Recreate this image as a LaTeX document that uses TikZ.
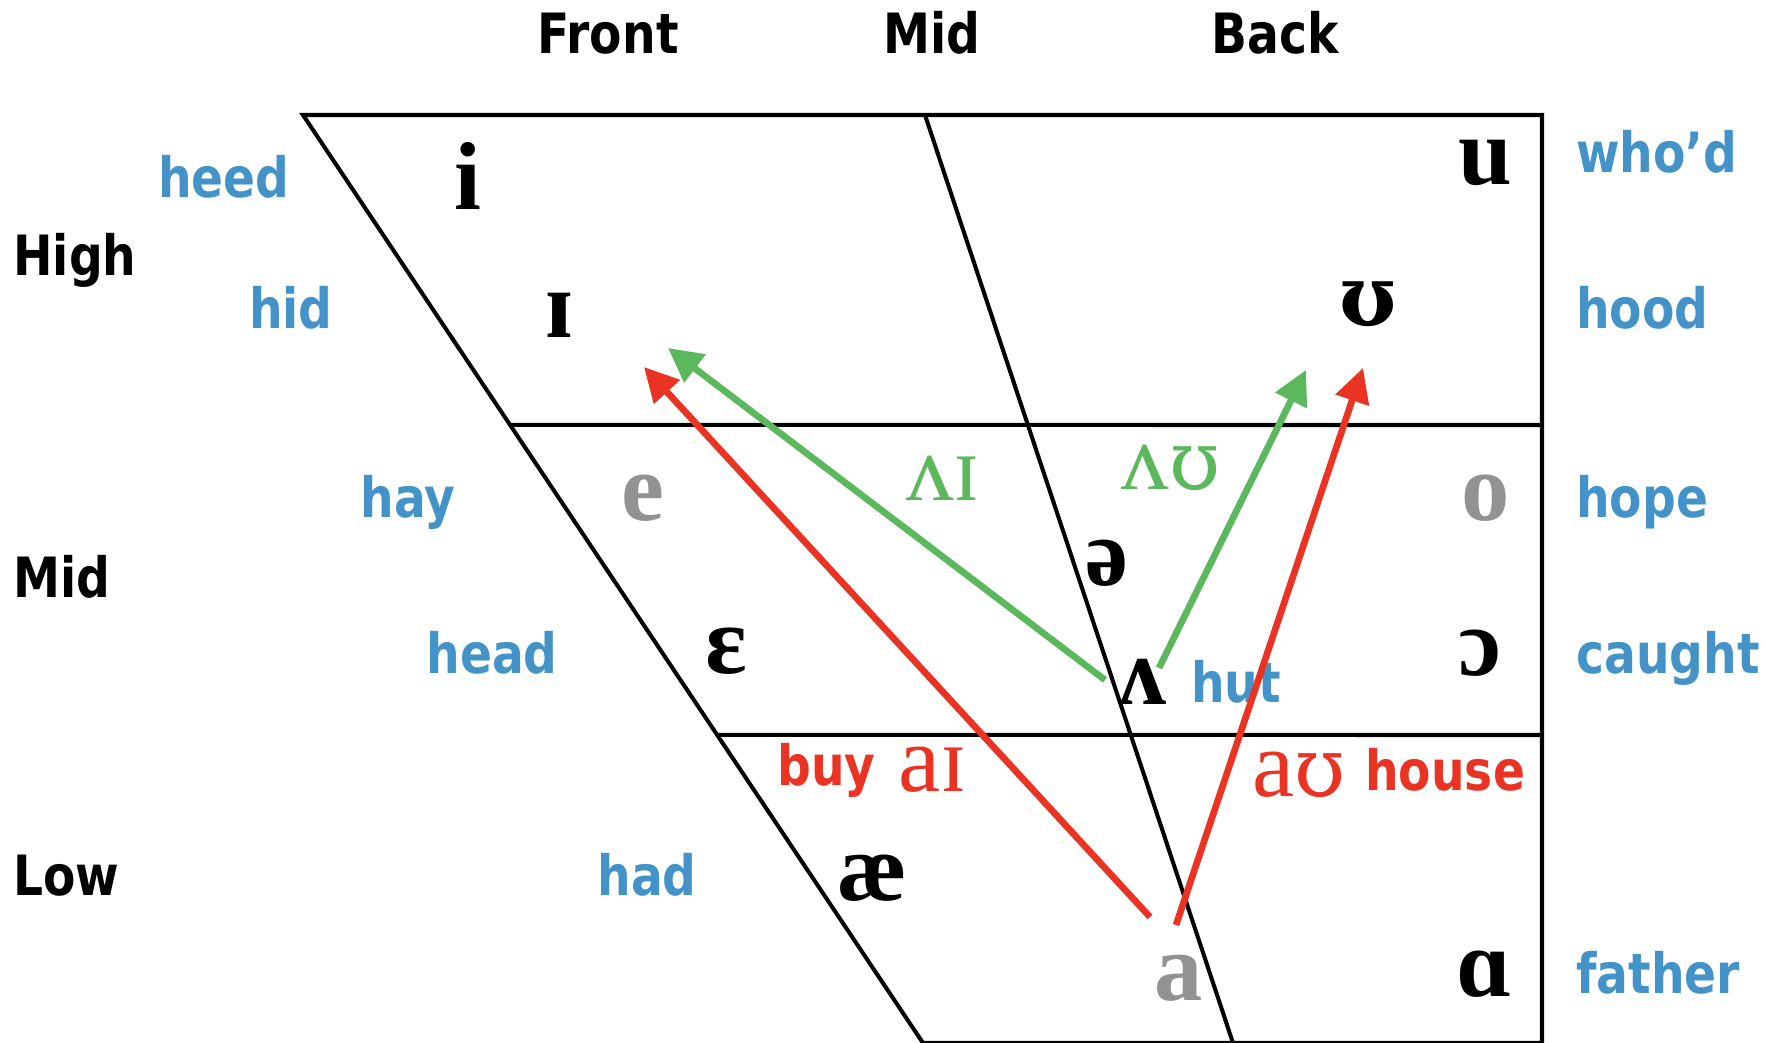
\documentclass[tikz,border=0pt]{standalone}
\usepackage{fontspec}
\setmainfont{Liberation Serif}
\newfontfamily\labfont[FakeStretch=0.85]{DejaVu Sans}
\newfontfamily\ipafont{Liberation Serif}
\newfontfamily\ipaalt{DejaVu Serif}
\newcommand\altU[1]{{\ipaalt\fontsize{#1}{#1}\selectfont ʊ}}
\usetikzlibrary{arrows.meta,calc}
\definecolor{wordblue}{HTML}{4493C8}
\definecolor{digreen}{HTML}{5CB85C}
\definecolor{dired}{HTML}{EA3323}
\definecolor{vgray}{HTML}{929292}
\tikzset{
  lab/.style={font=\labfont\bfseries\fontsize{31.6}{36}\selectfont, inner sep=0pt},
  word/.style={lab, text=wordblue},
  vowel/.style={font=\ipafont\bfseries\fontsize{55}{60}\selectfont, inner sep=0pt, anchor=base},
  diph/.style={font=\ipafont\fontsize{54}{60}\selectfont, inner sep=0pt, anchor=base},
  chartline/.style={line width=2.3pt, black},
  glide/.style={line width=3.8pt, -{Triangle[length=0.68cm,width=0.68cm]}},
}
\begin{document}
\begin{tikzpicture}[x=0.02cm,y=-0.02cm]
\useasboundingbox (0,0) rectangle (1765,1043);
% chart corners
\coordinate (TL) at (303,115);
\coordinate (TR) at (1542,115);
\coordinate (BL) at (923,1043);
\coordinate (BR) at (1542,1043);
\coordinate (MT) at (925,115);
\coordinate (MB) at (1233,1043);
\coordinate (L1) at ($(TL)!0.334!(BL)$);
\coordinate (L2) at ($(TL)!0.668!(BL)$);
\coordinate (R1) at (1542,425);
\coordinate (R2) at (1542,735);
\draw[chartline] (BL) -- (TL) -- (TR) -- (BR) -- cycle;
\draw[chartline] (MT) -- (MB);
\draw[chartline] (L1) -- (R1);
\draw[chartline] (L2) -- (R2);
% column headings
\node[lab, anchor=base] (front) at (608,54) {Front};
\node[lab, anchor=base] (midtop) at (932,54) {Mid};
\node[lab, anchor=base] (back) at (1275,54) {Back};
% row headings
\node[lab, anchor=base west] (high) at (13,276) {High};
\node[lab, anchor=base west] (midrow) at (13,598) {Mid};
\node[lab, anchor=base west] (low) at (13,895) {Low};
% key words, left
\node[word, anchor=base east] (heed) at (290,198) {heed};
\node[word, anchor=base east] (hid) at (333,329) {hid};
\node[word, anchor=base east] (hay) at (456,518) {hay};
\node[word, anchor=base east] (head) at (558,673) {head};
\node[word, anchor=base east] (had) at (697,895) {had};
% key words, right
\node[word, anchor=base west] (whod) at (1576,173) {who’d};
\node[word, anchor=base west] (hood) at (1576,329) {hood};
\node[word, anchor=base west] (hope) at (1576,518) {hope};
\node[word, anchor=base west] (caught) at (1576,673) {caught};
\node[word, anchor=base west] (father) at (1576,993) {father};
\node[word, anchor=base west] (hut) at (1191,702) {hut};
% vowels
\node[vowel] (vi) at (468,210) {i};
\node[vowel] (vI) at (559,338) {ɪ};
\node[vowel] (vu) at (1485,185) {u};
\node[vowel] (vU) at (1368,326) {\altU{48}};
\node[vowel, text=vgray] (ve) at (643,521) {e};
\node[vowel, text=vgray] (vo) at (1486,521) {o};
\node[vowel] (vschwa) at (1107,585) {ə};
\node[vowel] (veps) at (726,673) {ɛ};
\node[vowel] (vwedge) at (1143,704) {ʌ};
\node[vowel] (vopen) at (1480,675) {ɔ};
\node[vowel] (vae) at (872,900) {æ};
\node[vowel, text=vgray] (va) at (1179,1000) {a};
\node[vowel] (vscript) at (1484,996) {ɑ};
% diphthong labels
\node[diph, text=dired] (aI) at (933,791) {aɪ};
\node[diph, text=dired] (aU) at (1299,796) {a\altU{47}};
\node[diph, text=digreen] (wI) at (943,501) {ʌɪ};
\node[diph, text=digreen] (wU) at (1171,490) {ʌ\altU{47}};
\node[lab, text=dired, anchor=base west] (buy) at (777,785) {buy};
\node[lab, text=dired, anchor=base west] (house) at (1365,790) {house};
% glide arrows
\coordinate (g1s) at (1105,680);
\coordinate (g1e) at (668,348);
\coordinate (g2s) at (1159,668);
\coordinate (g2e) at (1306,370);
\coordinate (r1s) at (1150,917);
\coordinate (r1e) at (644,367);
\coordinate (r2s) at (1176,925);
\coordinate (r2e) at (1363,368);
\draw[glide, digreen] (g1s) -- (g1e);
\draw[glide, digreen] (g2s) -- (g2e);
\draw[glide, dired] (r1s) -- (r1e);
\draw[glide, dired] (r2s) -- (r2e);
\end{tikzpicture}
\end{document}
